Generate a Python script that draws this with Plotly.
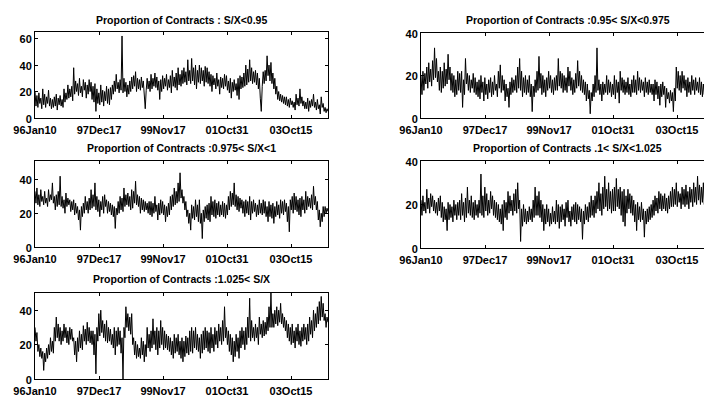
import plotly.graph_objects as go

# Daily proportion of contracts (%) in each moneyness bucket, sampled about every 7-8 trading days
sx_below_095 = [
    20, 9, 17, 8, 19, 11, 15, 7, 22, 10, 18, 8, 16, 11, 21, 9, 15, 7, 14, 8,
    16, 9, 18, 6, 15, 10, 17, 9, 14, 8, 22, 12, 19, 14, 25, 15, 22, 16, 24, 13,
    38, 18, 28, 20, 26, 17, 30, 19, 24, 16, 29, 21, 27, 15, 25, 18, 29, 20, 27, 14,
    24, 12, 26, 5, 22, 11, 19, 10, 25, 12, 21, 9, 20, 13, 24, 11, 22, 10, 23, 14,
    25, 18, 28, 20, 33, 22, 27, 19, 29, 21, 62, 19, 30, 20, 27, 16, 25, 18, 28, 20,
    31, 22, 32, 24, 35, 20, 30, 22, 29, 21, 31, 23, 28, 17, 7, 21, 30, 22, 28, 20,
    33, 22, 30, 24, 34, 23, 31, 21, 28, 14, 29, 20, 32, 22, 30, 24, 33, 21, 29, 23,
    32, 19, 36, 24, 31, 23, 34, 21, 38, 25, 33, 24, 36, 26, 38, 27, 35, 25, 44, 28,
    36, 26, 45, 28, 38, 25, 40, 22, 36, 27, 40, 26, 38, 28, 36, 24, 39, 27, 38, 26,
    35, 24, 33, 20, 32, 25, 30, 22, 34, 24, 29, 18, 31, 23, 30, 22, 33, 24, 32, 21,
    28, 19, 30, 15, 27, 20, 29, 21, 26, 17, 30, 14, 32, 22, 31, 23, 34, 24, 40, 25,
    37, 27, 44, 28, 38, 26, 35, 27, 36, 25, 34, 22, 30, 15, 5, 24, 35, 26, 36, 28,
    47, 32, 40, 28, 42, 26, 34, 22, 30, 18, 24, 14, 20, 13, 18, 12, 17, 11, 16, 10,
    16, 9, 14, 8, 15, 10, 13, 8, 12, 6, 18, 10, 15, 9, 22, 11, 16, 9, 13, 7,
    12, 7, 15, 5, 13, 8, 14, 9, 18, 8, 12, 6, 14, 7, 10, 3, 16, 8, 11, 5,
    8, 4, 7, 5,
]
sx_095_0975 = [
    20, 11, 22, 13, 21, 16, 24, 14, 26, 17, 23, 15, 27, 18, 33, 19, 28, 17, 22, 13,
    24, 12, 22, 14, 26, 15, 23, 16, 30, 18, 24, 13, 21, 12, 20, 10, 18, 11, 22, 13,
    21, 12, 22, 5, 18, 11, 28, 16, 21, 13, 20, 12, 18, 14, 21, 12, 19, 11, 17, 10,
    18, 9, 20, 12, 17, 8, 19, 11, 16, 9, 18, 12, 19, 10, 17, 11, 20, 13, 16, 10,
    22, 14, 25, 12, 20, 13, 18, 8, 16, 10, 14, 5, 17, 11, 19, 12, 18, 13, 20, 12,
    24, 14, 28, 13, 22, 10, 19, 12, 20, 11, 18, 12, 20, 10, 16, 3, 15, 10, 18, 12,
    22, 13, 29, 14, 21, 11, 20, 12, 18, 10, 19, 13, 22, 14, 20, 12, 18, 11, 19, 13,
    20, 13, 28, 15, 22, 14, 21, 12, 20, 13, 19, 12, 24, 15, 22, 13, 19, 11, 18, 12,
    21, 14, 27, 15, 22, 13, 20, 12, 18, 11, 17, 8, 16, 9, 13, 2, 12, 8, 16, 10,
    20, 12, 33, 13, 18, 11, 16, 8, 17, 11, 16, 12, 20, 11, 18, 12, 17, 10, 16, 11,
    20, 9, 18, 12, 17, 7, 22, 13, 19, 12, 18, 11, 17, 12, 19, 11, 16, 10, 18, 12,
    20, 12, 18, 11, 22, 13, 19, 12, 18, 13, 17, 10, 19, 12, 17, 11, 18, 12, 16, 11,
    16, 8, 18, 11, 17, 9, 15, 6, 16, 10, 17, 11, 15, 5, 14, 9, 12, 7, 13, 8,
    12, 3, 14, 8, 24, 14, 22, 13, 20, 12, 22, 14, 20, 13, 18, 10, 19, 12, 17, 11,
    20, 13, 18, 11, 19, 13, 17, 12, 19, 11, 17, 10, 16, 11, 18, 12, 17, 11, 16, 12,
    14, 10, 15, 11,
]
sx_0975_1 = [
    33, 26, 35, 25, 31, 24, 34, 27, 30, 25, 33, 26, 29, 24, 34, 27, 31, 28, 38, 26,
    30, 22, 31, 24, 33, 25, 42, 24, 30, 23, 28, 20, 32, 24, 29, 25, 28, 21, 27, 22,
    28, 19, 26, 20, 24, 16, 22, 10, 24, 18, 26, 20, 30, 22, 27, 20, 29, 22, 34, 23,
    31, 24, 38, 22, 30, 21, 28, 18, 27, 22, 30, 20, 31, 24, 28, 20, 27, 21, 26, 19,
    25, 18, 24, 11, 23, 19, 27, 20, 30, 22, 29, 21, 35, 24, 31, 25, 32, 24, 30, 22,
    34, 23, 33, 26, 39, 25, 31, 24, 30, 20, 29, 22, 28, 21, 27, 22, 26, 20, 27, 19,
    27, 18, 26, 20, 30, 21, 25, 16, 26, 19, 28, 20, 27, 19, 25, 15, 24, 18, 26, 19,
    30, 22, 31, 24, 35, 25, 33, 26, 38, 27, 44, 29, 34, 26, 30, 22, 27, 18, 22, 14,
    20, 10, 25, 17, 24, 16, 28, 18, 25, 15, 28, 14, 20, 5, 22, 15, 24, 17, 25, 16,
    26, 15, 30, 19, 27, 18, 28, 17, 26, 19, 27, 18, 25, 19, 27, 18, 26, 17, 25, 19,
    30, 22, 33, 24, 32, 25, 38, 24, 31, 22, 30, 21, 29, 23, 28, 20, 27, 18, 28, 20,
    27, 19, 30, 16, 27, 20, 28, 21, 26, 18, 25, 19, 28, 20, 26, 19, 28, 20, 27, 18,
    24, 15, 27, 18, 25, 17, 26, 14, 24, 18, 27, 19, 25, 17, 28, 20, 27, 19, 28, 21,
    26, 15, 24, 9, 28, 22, 30, 20, 32, 22, 30, 21, 28, 19, 29, 18, 30, 22, 28, 20,
    33, 22, 30, 24, 29, 23, 31, 22, 36, 25, 30, 22, 27, 16, 22, 12, 20, 15, 24, 18,
    24, 20, 23, 21,
]
sx_1_1025 = [
    22, 15, 24, 17, 21, 16, 27, 18, 23, 16, 25, 19, 24, 17, 22, 16, 21, 15, 23, 17,
    24, 14, 21, 12, 19, 13, 18, 8, 21, 13, 20, 14, 19, 12, 22, 15, 20, 13, 21, 15,
    22, 13, 25, 15, 21, 12, 23, 14, 28, 16, 22, 15, 24, 14, 21, 13, 22, 15, 20, 14,
    22, 16, 34, 15, 24, 14, 28, 17, 25, 15, 22, 16, 26, 18, 24, 15, 22, 14, 21, 13,
    20, 12, 18, 11, 20, 8, 22, 14, 21, 13, 26, 16, 24, 17, 22, 15, 25, 17, 27, 16,
    30, 18, 22, 3, 18, 10, 20, 12, 18, 11, 17, 12, 19, 13, 18, 12, 22, 14, 28, 15,
    24, 15, 26, 14, 22, 12, 20, 8, 18, 11, 20, 12, 18, 10, 16, 11, 19, 12, 17, 11,
    22, 12, 20, 9, 19, 12, 20, 13, 18, 10, 21, 14, 22, 12, 17, 10, 19, 13, 20, 12,
    21, 11, 20, 13, 19, 12, 18, 4, 17, 11, 20, 13, 19, 12, 21, 14, 24, 15, 22, 14,
    24, 16, 26, 18, 30, 17, 25, 15, 28, 18, 33, 19, 27, 17, 30, 18, 26, 16, 27, 17,
    28, 17, 32, 19, 27, 18, 28, 15, 26, 12, 27, 10, 24, 16, 27, 18, 25, 16, 24, 15,
    22, 12, 20, 8, 21, 13, 19, 12, 21, 13, 18, 5, 17, 11, 18, 12, 19, 13, 20, 14,
    22, 15, 24, 17, 23, 16, 26, 18, 25, 17, 24, 18, 25, 17, 23, 16, 24, 18, 26, 19,
    28, 19, 27, 20, 30, 19, 26, 21, 25, 18, 28, 20, 27, 19, 29, 20, 26, 18, 28, 21,
    27, 19, 30, 21, 28, 20, 33, 22, 29, 20, 28, 21, 30, 20, 31, 22, 29, 20, 30, 22,
    28, 21, 26, 20,
]
sx_above_1025 = [
    30, 22, 27, 16, 20, 13, 18, 12, 16, 5, 15, 10, 18, 12, 20, 14, 24, 16, 22, 15,
    30, 22, 36, 24, 32, 22, 30, 20, 28, 22, 32, 24, 30, 21, 28, 20, 30, 23, 29, 22,
    24, 14, 22, 10, 24, 16, 28, 18, 26, 17, 31, 22, 29, 20, 33, 22, 30, 21, 28, 20,
    28, 14, 26, 3, 30, 22, 38, 25, 40, 27, 34, 24, 32, 22, 34, 21, 30, 22, 29, 20,
    26, 18, 30, 14, 28, 19, 30, 20, 28, 15, 24, 0, 30, 24, 42, 30, 38, 28, 36, 26,
    38, 20, 24, 14, 22, 12, 20, 13, 18, 12, 24, 14, 22, 10, 20, 13, 30, 18, 26, 16,
    28, 18, 35, 20, 28, 17, 30, 14, 28, 18, 34, 20, 30, 17, 28, 18, 26, 17, 25, 16,
    24, 14, 22, 12, 26, 15, 24, 16, 26, 14, 22, 12, 24, 10, 22, 13, 25, 15, 24, 14,
    28, 16, 30, 15, 28, 18, 30, 17, 26, 16, 24, 12, 26, 15, 28, 17, 30, 18, 28, 16,
    27, 15, 30, 18, 26, 16, 30, 20, 28, 18, 32, 22, 30, 20, 34, 22, 42, 24, 30, 20,
    28, 16, 26, 14, 24, 10, 22, 13, 26, 16, 24, 12, 28, 18, 30, 20, 28, 17, 30, 20,
    36, 24, 47, 22, 34, 24, 30, 22, 32, 24, 30, 20, 36, 26, 32, 24, 34, 25, 33, 26,
    36, 28, 42, 30, 50, 30, 38, 30, 40, 32, 42, 31, 40, 33, 44, 32, 38, 30, 36, 28,
    34, 24, 32, 22, 30, 20, 32, 21, 28, 18, 30, 22, 32, 20, 28, 19, 30, 22, 32, 23,
    30, 20, 32, 22, 36, 26, 34, 24, 40, 28, 38, 30, 42, 32, 45, 34, 48, 36, 44, 34,
    38, 30, 36, 33,
]

titles = [
    "Proportion of Contracts : S/X<0.95",
    "Proportion of Contracts :0.95< S/X<0.975",
    "Proportion of Contracts :0.975< S/X<1",
    "Proportion of Contracts .1< S/X<1.025",
    "Proportion of Contracts :1.025< S/X",
]
series = [sx_below_095, sx_095_0975, sx_0975_1, sx_1_1025, sx_above_1025]
tick_days = [1, 501, 1001, 1501, 2001]
tick_dates = ["96Jan10", "97Dec17", "99Nov17", "01Oct31", "03Oct15"]
y_tops = [65, 40, 51, 40, 50]
y_ticks = [[0, 20, 40, 60], [0, 20, 40], [0, 20, 40], [0, 20, 40], [0, 20, 40]]
last_day = 2290

W, H = 704, 396
# pixel boxes (left, top, right, bottom) of each panel; the right column runs past the page edge
boxes = [
    (35, 32, 328, 118),
    (421, 33, 714, 118),
    (35, 161, 328, 247),
    (421, 161, 714, 248),
    (35, 293, 328, 379),
]
title_y = [20, 20, 148, 148, 279]

FONT = "Liberation Sans"
tick_font = dict(family=FONT, size=11, color="black", weight="bold")
fig = go.Figure()
for i, vals in enumerate(series):
    n = len(vals)
    days = [1 + k * (last_day - 1) / (n - 1) for k in range(n)]
    xa = "x" if i == 0 else f"x{i+1}"
    ya = "y" if i == 0 else f"y{i+1}"
    fig.add_trace(go.Scatter(x=days, y=vals, mode="lines", xaxis=xa, yaxis=ya,
                             line=dict(color="black", width=1), showlegend=False,
                             hoverinfo="skip"))
    l, t, r, b = boxes[i]
    clipped = r > W
    r_vis = min(r, W)
    x_hi = 1 + (last_day - 1) * (r_vis - l) / (r - l)
    suffix = "" if i == 0 else str(i + 1)
    fig.layout["xaxis" + suffix] = dict(
        domain=[l / W, r_vis / W], range=[1, x_hi], anchor=ya, automargin=False,
        tickmode="array", tickvals=tick_days, ticktext=tick_dates,
        ticks="inside", ticklen=3, tickcolor="black", showgrid=False, zeroline=False,
        showline=True, linecolor="black", linewidth=1, mirror="ticks",
        tickfont=tick_font, ticklabelstandoff=2,
    )
    fig.layout["yaxis" + suffix] = dict(
        domain=[1 - b / H, 1 - t / H], range=[0, y_tops[i]], anchor=xa, automargin=False,
        tickmode="array", tickvals=y_ticks[i],
        ticks="inside", ticklen=3, tickcolor="black", showgrid=False, zeroline=False,
        showline=True, linecolor="black", linewidth=1,
        mirror=False if clipped else "ticks",
        tickfont=tick_font, ticklabelshift=1,
    )
    fig.add_annotation(x=(l + r) / 2 / W, y=1 - title_y[i] / H, xref="paper", yref="paper",
                       text=titles[i], showarrow=False, xanchor="center", yanchor="middle",
                       font=dict(family=FONT, size=10.5, color="black", weight="bold"))

fig.update_layout(width=W, height=H,
                  margin=dict(l=0, r=0, t=0, b=0, pad=0, autoexpand=False),
                  paper_bgcolor="white", plot_bgcolor="white", autosize=False)
fig.write_html("out.html")
